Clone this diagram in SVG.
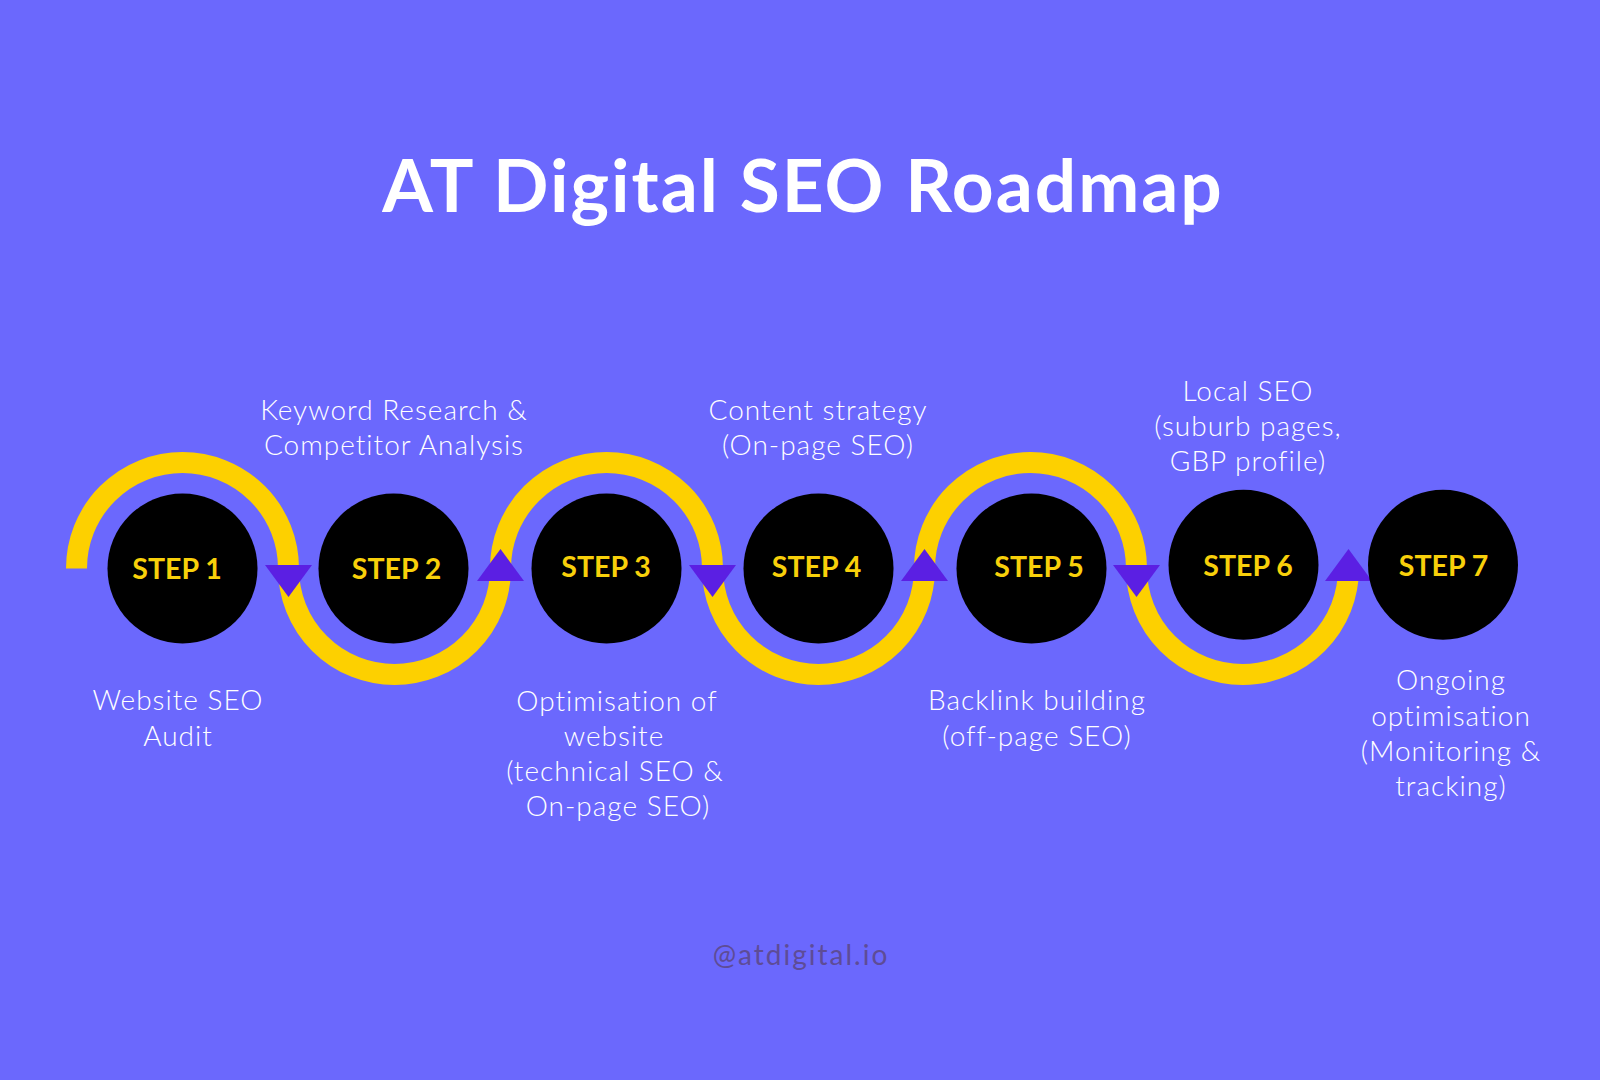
<svg xmlns="http://www.w3.org/2000/svg" width="1600" height="1080" viewBox="0 0 1600 1080">
<style>
.bg{fill:#6B68FD}
.title{font-family:Lato,"Noto Sans",sans-serif;font-weight:700;font-size:73px;letter-spacing:2px;fill:#FFFFFF;text-anchor:middle}
.circ{fill:#000000}
.step{font-family:Lato,"Noto Sans",sans-serif;font-weight:700;font-size:28.5px;fill:#F8D00A;text-anchor:middle}
.lbl{font-family:Lato,"Noto Sans",sans-serif;font-weight:300;font-size:28px;letter-spacing:1px;fill:#FFFFFF;text-anchor:middle}
.road{fill:none;stroke:#FDD000;stroke-width:21;stroke-linecap:butt}
.tri{fill:#5B1FE3}
.handle{font-family:Lato,"Noto Sans",sans-serif;font-weight:400;font-size:28px;letter-spacing:2px;fill:#5E4C96;text-anchor:middle}
</style>
<rect class="bg" x="0" y="0" width="1600" height="1080"/>
<text class="title" x="803" y="212">AT Digital SEO Roadmap</text>

<g id="connectors">
<path class="road" d="M76.5,568.5 A106,106 0 0 1 288.5,568.5 A106,106 0 0 0 500.5,568.5 A106,106 0 0 1 712.5,568.5 A106,106 0 0 0 924.5,568.5 A106,106 0 0 1 1136.5,568.5 A106,106 0 0 0 1348.5,568.5"/>
<polygon class="tri" points="265,565 312,565 288.5,597"/>
<polygon class="tri" points="477,581 524,581 500.5,549"/>
<polygon class="tri" points="689,565 736,565 712.5,597"/>
<polygon class="tri" points="901,581 948,581 924.5,549"/>
<polygon class="tri" points="1113,565 1160,565 1136.5,597"/>
<polygon class="tri" points="1325,581 1372,581 1348.5,549"/>
</g>

<g id="step1">
<circle class="circ" cx="182.5" cy="568.5" r="75"/>
<text class="step" x="177" y="578.5">STEP 1</text>
<text class="lbl" x="178" y="710">Website SEO</text>
<text class="lbl" x="178" y="745.5">Audit</text>
</g>
<g id="step2">
<circle class="circ" cx="393.5" cy="568.5" r="75"/>
<text class="step" x="396.5" y="578.5">STEP 2</text>
<text class="lbl" x="394" y="419.5">Keyword Research &amp;</text>
<text class="lbl" x="394" y="454.5">Competitor Analysis</text>
</g>
<g id="step3">
<circle class="circ" cx="606.5" cy="568.5" r="75"/>
<text class="step" x="606" y="576.5">STEP 3</text>
<text class="lbl" x="617" y="711">Optimisation of</text>
<text class="lbl" x="614" y="746">website</text>
<text class="lbl" x="615" y="781">(technical SEO &amp;</text>
<text class="lbl" x="618" y="816">On-page SEO)</text>
</g>
<g id="step4">
<circle class="circ" cx="818.5" cy="568.5" r="75"/>
<text class="step" x="816.5" y="576.5">STEP 4</text>
<text class="lbl" x="818" y="419.5">Content strategy</text>
<text class="lbl" x="818" y="454.5">(On-page SEO)</text>
</g>
<g id="step5">
<circle class="circ" cx="1031.5" cy="568.5" r="75"/>
<text class="step" x="1039" y="576.5">STEP 5</text>
<text class="lbl" x="1037" y="710">Backlink building</text>
<text class="lbl" x="1037" y="745.5">(off-page SEO)</text>
</g>
<g id="step6">
<circle class="circ" cx="1243.5" cy="564.7" r="75"/>
<text class="step" x="1248" y="576">STEP 6</text>
<text class="lbl" x="1248" y="400.5">Local SEO</text>
<text class="lbl" x="1248" y="435.5">(suburb pages,</text>
<text class="lbl" x="1248" y="470.5">GBP profile)</text>
</g>
<g id="step7">
<circle class="circ" cx="1443" cy="564.7" r="75"/>
<text class="step" x="1443.5" y="576">STEP 7</text>
<text class="lbl" x="1451" y="690">Ongoing</text>
<text class="lbl" x="1451" y="725.5">optimisation</text>
<text class="lbl" x="1451" y="760.5">(Monitoring &amp;</text>
<text class="lbl" x="1451" y="795.5">tracking)</text>
</g>

<text class="handle" x="801" y="965">@atdigital.io</text>
</svg>
